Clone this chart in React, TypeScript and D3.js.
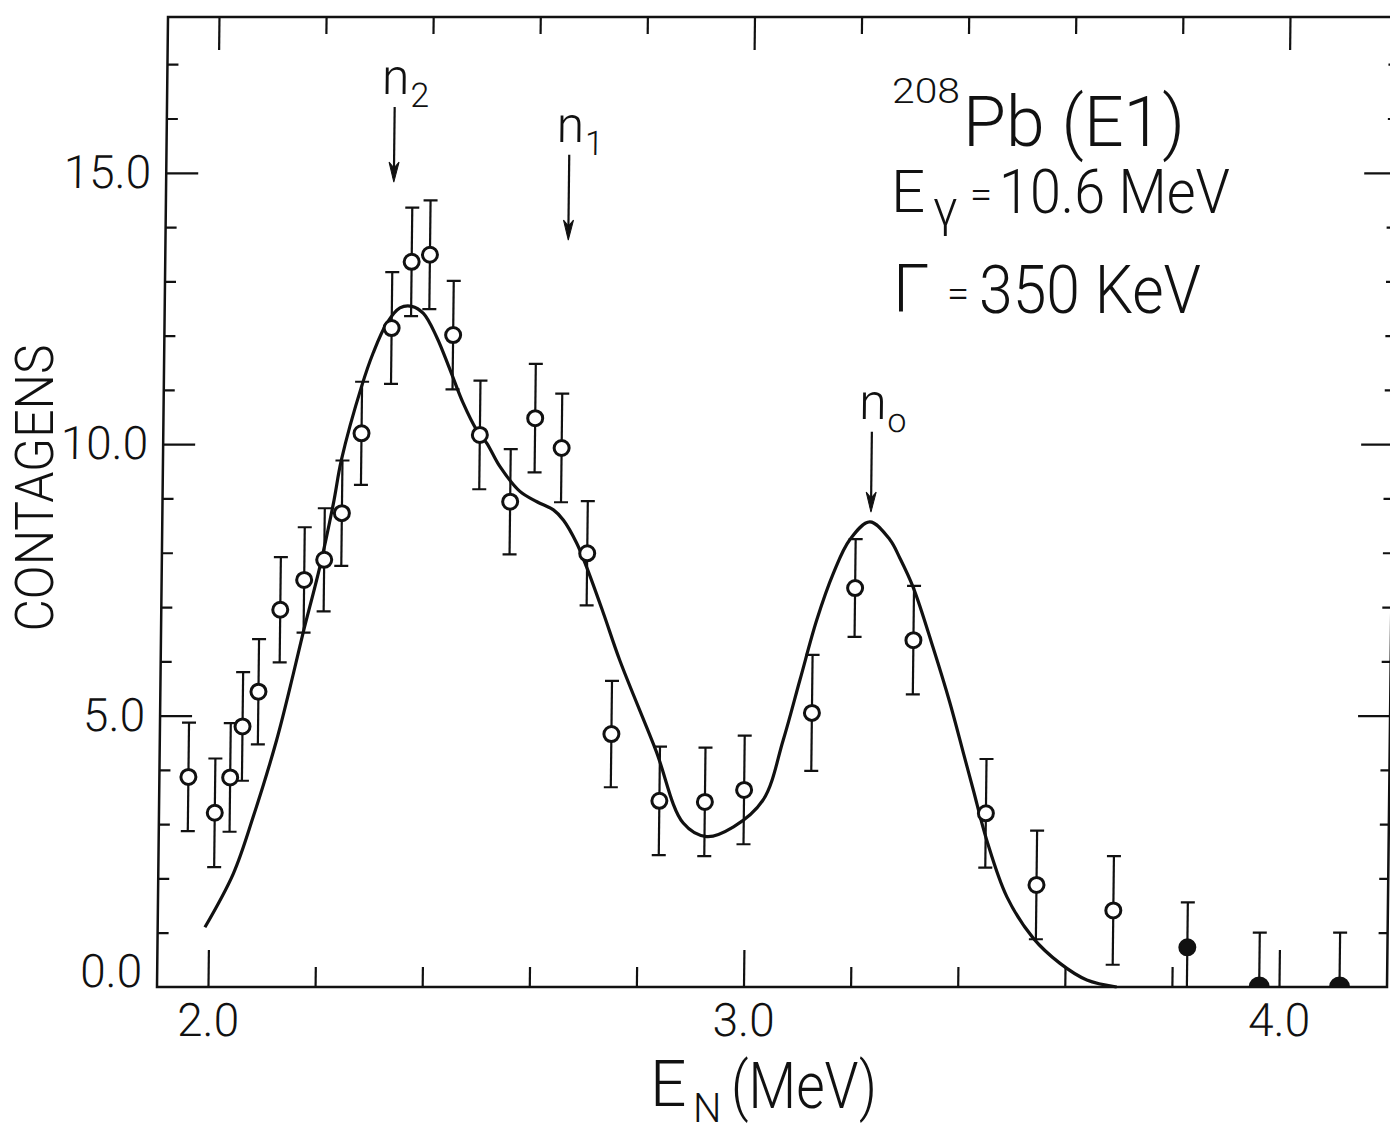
import { useEffect, useRef } from "react";
import * as d3 from "d3";

const width = 1390;
const height = 1131;
const margin = { top: 17, right: 3, bottom: 144, left: 157 };
const innerRight = width - margin.right;
const innerBottom = height - margin.bottom;
// the scanned figure leans a little to the right towards the top
const skew = -0.65;

const font = "Roboto, 'DejaVu Sans', Arial, sans-serif";

// measured points, E_N (MeV) vs counts
const energy = [1.959, 2.009, 2.037, 2.059, 2.088, 2.127, 2.171, 2.208, 2.240, 2.275, 2.329, 2.365, 2.399, 2.444, 2.496, 2.554, 2.599, 2.649, 2.699, 2.748, 2.839, 2.924, 2.997, 3.122, 3.200, 3.310, 3.449, 3.545, 3.689, 3.828, 3.963, 4.113];
const counts = [3.87, 3.21, 3.86, 4.80, 5.44, 6.95, 7.50, 7.87, 8.73, 10.20, 12.14, 13.36, 13.49, 12.01, 10.17, 8.94, 10.48, 9.93, 7.99, 4.66, 3.43, 3.41, 3.63, 5.05, 7.35, 6.39, 3.20, 1.88, 1.41, 0.73, 0.0, 0.0];
const errors = [1.0, 1.0, 1.0, 1.0, 0.97, 0.97, 0.97, 0.95, 0.97, 0.95, 1.03, 1.0, 1.0, 1.0, 1.0, 0.97, 1.0, 1.0, 0.96, 0.98, 1.0, 1.0, 1.0, 1.07, 0.9, 1.0, 1.0, 1.0, 1.0, 0.83, 1.0, 1.0];

// calculated curve
const fitEnergy = [1.993, 2.045, 2.081, 2.123, 2.153, 2.170, 2.200, 2.224, 2.238, 2.274, 2.295, 2.320, 2.344, 2.366, 2.388, 2.413, 2.439, 2.464, 2.490, 2.509, 2.534, 2.572, 2.604, 2.635, 2.654, 2.679, 2.698, 2.730, 2.762, 2.831, 2.884, 2.928, 2.978, 3.033, 3.069, 3.099, 3.129, 3.159, 3.189, 3.226, 3.264, 3.283, 3.309, 3.347, 3.379, 3.406, 3.425, 3.451, 3.490, 3.540, 3.590, 3.641, 3.697];
const fitCounts = [1.10, 2.09, 3.14, 4.55, 5.78, 6.52, 7.74, 8.91, 9.71, 11.06, 11.68, 12.23, 12.51, 12.54, 12.41, 11.98, 11.37, 10.76, 10.26, 10.02, 9.59, 9.13, 8.94, 8.79, 8.60, 8.18, 7.74, 6.90, 6.02, 4.37, 3.02, 2.77, 2.95, 3.45, 4.55, 5.66, 6.76, 7.62, 8.24, 8.57, 8.24, 7.90, 7.35, 6.25, 5.25, 4.30, 3.63, 2.71, 1.66, 0.90, 0.44, 0.13, 0.0];

// neutron groups marked with arrows
const peakNames = ["2", "1", "o"];
const peakEnergy = [2.330, 2.657, 3.228];
const arrowTop = [16.21, 15.33, 10.23];
const arrowTip = [14.83, 13.76, 8.75];

const xDomain = [1.9048, 4.2017];
const yDomain = [0, 17.87];
const xMajor = [2.0, 3.0, 4.0];
const xMinor = [2.2, 2.4, 2.6, 2.8, 3.2, 3.4, 3.6, 3.8];
const yMajor = [0, 5, 10, 15];
const yMinor = [1, 2, 3, 4, 6, 7, 8, 9, 11, 12, 13, 14, 16, 17];

const App = () => {
  const svgRef = useRef(null);

  useEffect(() => {
    const svg = d3.select(svgRef.current);
    svg.selectAll("*").remove();

    const x = d3.scaleLinear().domain(xDomain).range([margin.left, innerRight]);
    const y = d3.scaleLinear().domain(yDomain).range([innerBottom, margin.top]);

    const g = svg.append("g")
      .attr("transform", `translate(0,${innerBottom}) skewX(${skew}) translate(0,${-innerBottom})`);

    g.append("clipPath").attr("id", "plot-clip")
      .append("rect")
      .attr("x", margin.left).attr("y", margin.top)
      .attr("width", innerRight - margin.left).attr("height", innerBottom - margin.top);

    const styleAxis = (sel, size) => {
      sel.select(".domain").remove();
      sel.attr("font-family", font).attr("font-size", size).attr("font-weight", 300);
      sel.selectAll("line").attr("stroke", "#111").attr("stroke-width", 2.2);
      sel.selectAll("text").attr("fill", "#111");
    };

    // bottom
    g.append("g").attr("transform", `translate(0,${innerBottom})`)
      .call(d3.axisBottom(x).tickValues(xMinor).tickSize(-20).tickSizeOuter(0).tickFormat(() => ""))
      .call(s => styleAxis(s, 46));
    g.append("g").attr("transform", `translate(0,${innerBottom})`)
      .call(d3.axisBottom(x).tickValues(xMajor).tickSize(-37).tickSizeOuter(0).tickPadding(16).tickFormat(d3.format(".1f")))
      .call(s => styleAxis(s, 46));
    // top
    g.append("g").attr("transform", `translate(0,${margin.top})`)
      .call(d3.axisTop(x).tickValues(xMinor).tickSize(-17).tickSizeOuter(0).tickFormat(() => ""))
      .call(s => styleAxis(s, 46));
    g.append("g").attr("transform", `translate(0,${margin.top})`)
      .call(d3.axisTop(x).tickValues(xMajor).tickSize(-33).tickSizeOuter(0).tickFormat(() => ""))
      .call(s => styleAxis(s, 46));
    // left
    g.append("g").attr("transform", `translate(${margin.left},0)`)
      .call(d3.axisLeft(y).tickValues(yMinor).tickSize(-11).tickSizeOuter(0).tickFormat(() => ""))
      .call(s => styleAxis(s, 46));
    const left = g.append("g").attr("transform", `translate(${margin.left},0)`)
      .call(d3.axisLeft(y).tickValues(yMajor).tickSize(-32).tickSizeOuter(0).tickPadding(15).tickFormat(d3.format(".1f")))
      .call(s => styleAxis(s, 46));
    left.selectAll(".tick").filter(d => d === 0).select("line").remove();
    left.selectAll(".tick").filter(d => d === 0).select("text").attr("y", -15);
    // right
    g.append("g").attr("transform", `translate(${innerRight},0)`)
      .call(d3.axisRight(y).tickValues(yMinor).tickSize(-9).tickSizeOuter(0).tickFormat(() => ""))
      .call(s => styleAxis(s, 46));
    g.append("g").attr("transform", `translate(${innerRight},0)`)
      .call(d3.axisRight(y).tickValues(yMajor.filter(v => v > 0)).tickSize(-32).tickSizeOuter(0).tickFormat(() => ""))
      .call(s => styleAxis(s, 46));

    g.append("rect")
      .attr("x", margin.left).attr("y", margin.top)
      .attr("width", innerRight - margin.left).attr("height", innerBottom - margin.top)
      .attr("fill", "none").attr("stroke", "#111").attr("stroke-width", 2.5);

    // fitted curve
    const line = d3.line()
      .x((d, i) => x(fitEnergy[i]))
      .y((d, i) => y(fitCounts[i]))
      .curve(d3.curveCatmullRom.alpha(0.5));
    g.append("path")
      .attr("d", line(fitEnergy))
      .attr("fill", "none").attr("stroke", "#111").attr("stroke-width", 3.2);

    // error bars
    const pts = energy.map((e, i) => ({ e, c: counts[i], err: errors[i] }));
    const bars = g.append("g").attr("stroke", "#111").attr("stroke-width", 2.2);
    const cap = 7;
    pts.forEach(p => {
      const hi = p.c + p.err;
      const lo = Math.max(0, p.c - p.err);
      bars.append("line").attr("x1", x(p.e)).attr("x2", x(p.e)).attr("y1", y(hi)).attr("y2", y(lo));
      bars.append("line").attr("x1", x(p.e) - cap).attr("x2", x(p.e) + cap).attr("y1", y(hi)).attr("y2", y(hi));
      if (lo > 0) {
        bars.append("line").attr("x1", x(p.e) - cap).attr("x2", x(p.e) + cap).attr("y1", y(lo)).attr("y2", y(lo));
      }
    });

    // markers
    g.append("g").attr("clip-path", "url(#plot-clip)")
      .selectAll("circle")
      .data(pts)
      .join("circle")
      .attr("cx", d => x(d.e))
      .attr("cy", d => y(d.c))
      .attr("r", d => (d.c < 0.5 ? 9 : 7.5))
      .attr("fill", d => (d.c < 1 ? "#111" : "#fff"))
      .attr("stroke", "#111")
      .attr("stroke-width", 3);

    // arrows with n labels
    peakEnergy.forEach((e, i) => {
      const px = x(e);
      const top = y(arrowTop[i]);
      const tip = y(arrowTip[i]);
      g.append("line").attr("x1", px).attr("x2", px).attr("y1", top).attr("y2", tip - 4)
        .attr("stroke", "#111").attr("stroke-width", 2.2);
      g.append("path")
        .attr("d", `M${px},${tip} L${px - 5},${tip - 20} L${px},${tip - 14} L${px + 5},${tip - 20} Z`)
        .attr("fill", "#111").attr("stroke", "#111").attr("stroke-width", 1);
      const t = g.append("text")
        .attr("x", px - 13).attr("y", top - 13)
        .attr("font-family", font).attr("font-weight", 300).attr("font-size", 50).attr("fill", "#111")
        .text("n");
      t.append("tspan").attr("dy", 13).attr("dx", 1).attr("font-size", 34).text(peakNames[i]);
    });

    // axis titles
    svg.append("text")
      .attr("transform", `translate(53,488) rotate(-90)`)
      .attr("text-anchor", "middle")
      .attr("font-family", font).attr("font-weight", 300).attr("font-size", 53).attr("fill", "#111")
      .attr("textLength", 287).attr("lengthAdjust", "spacingAndGlyphs")
      .text("CONTAGENS");

    const xt = svg.append("g").attr("font-family", font).attr("font-weight", 300).attr("fill", "#111");
    xt.append("text").attr("x", 650).attr("y", 1106).attr("font-size", 64).text("E");
    xt.append("text").attr("x", 693).attr("y", 1122).attr("font-size", 40).text("N");
    xt.append("text").attr("x", 731).attr("y", 1108).attr("font-size", 64)
      .attr("textLength", 146).attr("lengthAdjust", "spacingAndGlyphs").text("(MeV)");

    // annotation
    const ann = svg.append("g").attr("font-family", font).attr("font-weight", 300).attr("fill", "#111");
    ann.append("text").attr("x", 892).attr("y", 103).attr("font-size", 35)
      .attr("textLength", 68).attr("lengthAdjust", "spacingAndGlyphs").text("208");
    ann.append("text").attr("x", 963).attr("y", 146).attr("font-size", 70)
      .attr("textLength", 222).attr("lengthAdjust", "spacingAndGlyphs").text("Pb (E1)");
    ann.append("text").attr("x", 891).attr("y", 212).attr("font-size", 60).text("E");
    ann.append("text").attr("x", 933).attr("y", 226).attr("font-size", 50).text("γ");
    ann.append("text").attr("x", 970).attr("y", 208).attr("font-size", 40).text("=");
    ann.append("text").attr("x", 999).attr("y", 213).attr("font-size", 62)
      .attr("textLength", 231).attr("lengthAdjust", "spacingAndGlyphs").text("10.6 MeV");
    ann.append("text").attr("x", 893).attr("y", 312).attr("font-size", 66).text("Γ");
    ann.append("text").attr("x", 947).attr("y", 307).attr("font-size", 40).text("=");
    ann.append("text").attr("x", 979).attr("y", 313).attr("font-size", 66)
      .attr("textLength", 222).attr("lengthAdjust", "spacingAndGlyphs").text("350 KeV");
  }, []);

  return (
    <svg
      ref={svgRef}
      width={width}
      height={height}
      style={{ position: "absolute", left: 0, top: 0, background: "#fff", display: "block" }}
    />
  );
};

export default App;
